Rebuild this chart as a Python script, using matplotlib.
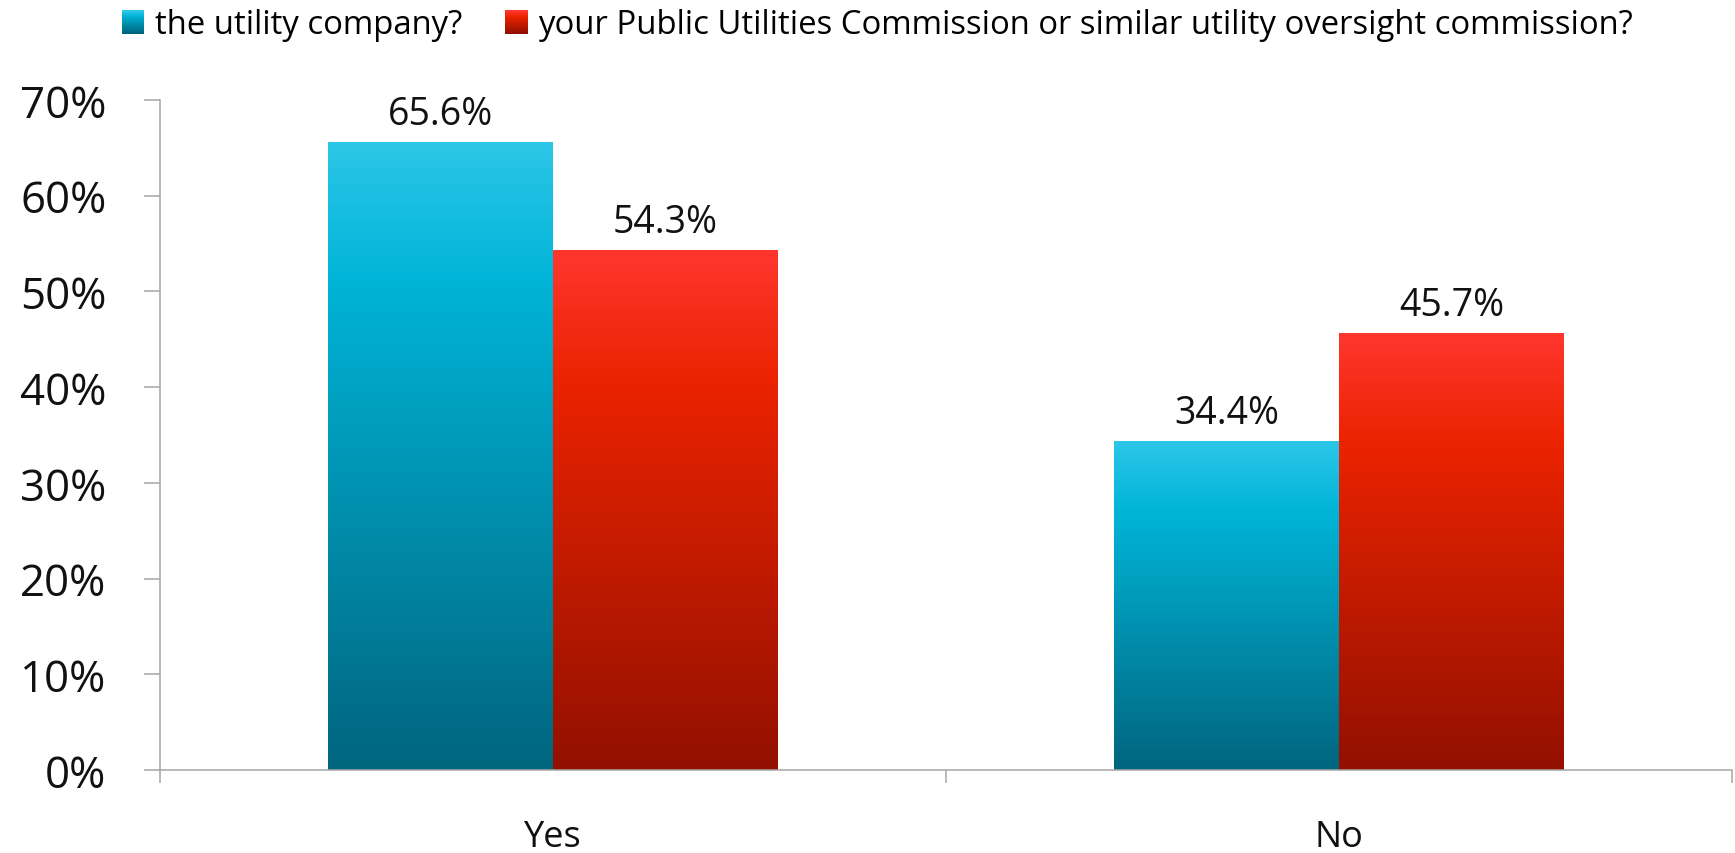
import numpy as np
import matplotlib
matplotlib.use("Agg")
import matplotlib.pyplot as plt
from matplotlib.colors import LinearSegmentedColormap
from matplotlib.legend_handler import HandlerBase
from matplotlib.patches import Rectangle

categories = ["Yes", "No"]
series_names = ["the utility company?",
                "your Public Utilities Commission or similar utility oversight commission?"]
utility_company = [65.6, 34.4]
utilities_commission = [54.3, 45.7]
yticks = [0, 10, 20, 30, 40, 50, 60, 70]

plt.rcParams['font.family'] = ['Open Sans', 'DejaVu Sans']

# gradients go bottom -> top
cyan = LinearSegmentedColormap.from_list(
    "cyan", [(0.0, "#00657f"), (0.78, "#00b4d7"), (1.0, "#2cc6e8")])
red = LinearSegmentedColormap.from_list(
    "red", [(0.0, "#931000"), (0.75, "#eb2300"), (1.0, "#ff362e")])


class GradientHandler(HandlerBase):
    def __init__(self, cmap, n=16):
        super().__init__()
        self.cmap = cmap
        self.n = n

    def create_artists(self, legend, orig_handle, xdescent, ydescent,
                       width, height, fontsize, trans):
        arts = []
        for i in range(self.n):
            y0 = -ydescent + height * i / self.n
            arts.append(Rectangle((-xdescent, y0), width, height / self.n * 1.05,
                                  facecolor=self.cmap(i / (self.n - 1)),
                                  edgecolor='none', transform=trans))
        return arts


def gradient_bar(ax, bar, cmap):
    x0 = bar.get_x()
    w = bar.get_width()
    h = bar.get_height()
    grad = np.linspace(0, 1, 256).reshape(-1, 1)
    im = ax.imshow(grad, cmap=cmap, origin='lower', aspect='auto',
                   extent=[x0, x0 + w, 0, h], zorder=2, interpolation='bilinear')
    im.set_clip_path(bar)
    bar.set_facecolor('none')


fig = plt.figure(figsize=(17.35, 8.54), dpi=100)
ax = fig.add_axes([0.0922, 0.0972, 0.9061, 0.7845])

x = np.arange(len(categories))
width = 0.286
bars1 = ax.bar(x - width / 2, utility_company, width, edgecolor='none', zorder=2)
bars2 = ax.bar(x + width / 2, utilities_commission, width, edgecolor='none', zorder=2)
for b in bars1:
    gradient_bar(ax, b, cyan)
for b in bars2:
    gradient_bar(ax, b, red)

for bars, vals in [(bars1, utility_company), (bars2, utilities_commission)]:
    for b, v in zip(bars, vals):
        ax.annotate(f"{v:.1f}%", (b.get_x() + b.get_width() / 2, v),
                    xytext=(0, 6.5), textcoords='offset points',
                    ha='center', va='bottom', fontsize=27, color='#111111')

ax.set_xlim(-0.5, 1.5)
ax.set_ylim(0, 70)
ax.set_yticks(yticks)
ax.set_yticklabels([f"{t}%" for t in yticks])
ax.set_xticks(x)
ax.set_xticklabels(categories)
ax.set_xticks([-0.5, 0.5, 1.5], minor=True)

gray = '#a6a6a6'
for s in ['top', 'right']:
    ax.spines[s].set_visible(False)
for s in ['left', 'bottom']:
    ax.spines[s].set_color(gray)
    ax.spines[s].set_linewidth(1.1)

ax.tick_params(axis='y', direction='out', length=11.5, width=1.1, color=gray,
               pad=27, labelsize=31.5, labelcolor='#111111')
ax.tick_params(axis='x', which='major', length=0, pad=35, labelsize=26,
               labelcolor='#111111')
ax.tick_params(axis='x', which='minor', direction='out', length=9.5, width=1.1,
               color=gray)

handles = [Rectangle((0, 0), 1, 1), Rectangle((0, 0), 1, 1)]
fig.legend(handles, series_names, loc='center', bbox_to_anchor=(0.5058, 1 - 26 / 854),
           ncol=2, frameon=False, fontsize=23.7, handlelength=0.68, handleheight=0.7,
           handletextpad=0.33, columnspacing=1.3, borderaxespad=0, borderpad=0,
           handler_map={handles[0]: GradientHandler(cyan),
                        handles[1]: GradientHandler(red)})

fig.savefig("out.png", dpi=100)
